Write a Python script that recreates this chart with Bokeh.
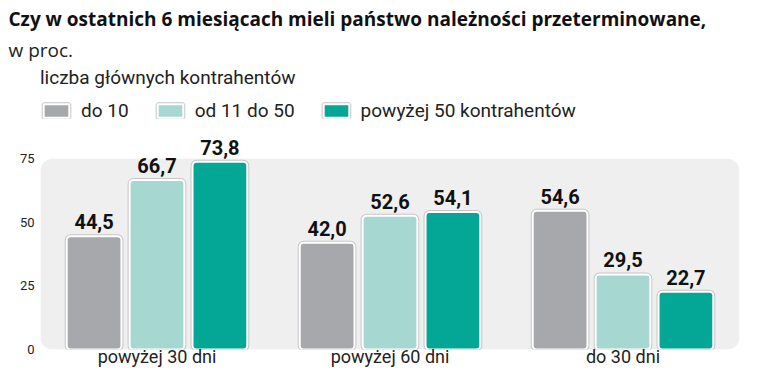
from bokeh.plotting import figure
from bokeh.models import (ColumnDataSource, FactorRange, FixedTicker, Legend, LegendItem, Title)
from bokeh.transform import dodge
from bokeh.core.properties import value
from bokeh.embed import file_html
from bokeh.resources import INLINE

categories = ["powyżej 30 dni", "powyżej 60 dni", "do 30 dni"]
series_names = ["do 10", "od 11 do 50", "powyżej 50 kontrahentów"]
do_10 = [44.5, 42.0, 54.6]
od_11_do_50 = [66.7, 52.6, 29.5]
powyzej_50 = [73.8, 54.1, 22.7]
y_ticks = [0, 25, 50, 75]
colors = ["#a7a8ac", "#a6d8d1", "#04a696"]

title_text = "Czy w ostatnich 6 miesiącach mieli państwo należności przeterminowane,"
subtitle_text = "w proc."
legend_title = "liczba głównych kontrahentów"

FONT = "Roboto"
TITLE_FONT = "Open Sans"
NUM_FONT = "Roboto"

p = figure(width=741, height=369, x_range=FactorRange(*categories),
           y_range=(0, 111.3), output_backend="svg", toolbar_location=None,
           title=None, min_border_left=40, min_border_right=2,
           min_border_bottom=0, min_border_top=66)
p.outline_line_color = None
p.background_fill_color = "white"
p.border_fill_color = "white"

# rounded background panel
p.quad(left=0, right=len(categories), bottom=y_ticks[0], top=y_ticks[-1],
       fill_color="#efefef", line_color=None, border_radius=12)

p.ygrid.ticker = FixedTicker(ticks=y_ticks[1:-1])
p.ygrid.grid_line_color = "#dadada"
p.ygrid.grid_line_width = 1
p.xgrid.grid_line_color = None

offsets = [-0.27, 0.0, 0.27]
bar_w = 0.235
series = [do_10, od_11_do_50, powyzej_50]
items = []
for name, vals, col, off in zip(series_names, series, colors, offsets):
    src = ColumnDataSource(dict(cat=categories, val=vals,
                                lab=[f"{v:.1f}".replace(".", ",") for v in vals]))
    x = dodge("cat", off, range=p.x_range)
    shadow = p.vbar(x=x, top="val", width=bar_w, bottom=0, source=src,
                    fill_color=None, line_color="#c6c6c6", line_width=4, border_radius=4)
    r = p.vbar(x=x, top="val", width=bar_w, bottom=0, source=src,
               fill_color=col, line_color="white", line_width=2, border_radius=4)
    items.append(LegendItem(label=name, renderers=[shadow, r]))
    p.text(x=x, y="val", text="lab", source=src, text_align="center",
           text_baseline="bottom", y_offset=-7, text_font=value(NUM_FONT),
           text_font_style="bold", text_font_size="20px", text_color="#111111")

legend = Legend(items=items,
                orientation="horizontal", location="top_left", title=legend_title,
                title_text_font=FONT, title_text_font_size="19px", title_text_font_style="normal",
                title_text_color="#222222", title_standoff=10,
                label_text_font=FONT, label_text_font_size="19px", label_text_color="#222222",
                glyph_width=32, glyph_height=17, label_standoff=9, spacing=25,
                padding=10, margin=0, background_fill_alpha=0, border_line_color=None)
p.add_layout(legend, "center")

p.yaxis.ticker = FixedTicker(ticks=y_ticks)
p.yaxis.axis_line_color = None
p.yaxis.major_tick_line_color = None
p.yaxis.minor_tick_line_color = None
p.yaxis.major_tick_out = 0
p.yaxis.major_label_text_font = FONT
p.yaxis.major_label_text_font_size = "13px"
p.yaxis.major_label_text_color = "#222222"
p.yaxis.major_label_standoff = 6

p.xaxis.axis_line_color = None
p.xaxis.major_tick_line_color = None
p.xaxis.minor_tick_line_color = None
p.xaxis.major_tick_out = 0
p.xaxis.major_label_text_font = FONT
p.xaxis.major_label_text_font_size = "18px"
p.xaxis.major_label_text_color = "#222222"
p.xaxis.major_label_standoff = -4

p.add_layout(Title(text=subtitle_text, text_font=TITLE_FONT, text_font_size="19px",
                   text_font_style="normal", text_color="#222222", offset=-32,
                   standoff=8), "above")
p.add_layout(Title(text=title_text, text_font=TITLE_FONT, text_font_size="19px",
                   text_font_style="bold", text_color="#111111", offset=-32,
                   standoff=-3), "above")

open("out.html", "w").write(file_html(p, INLINE))
